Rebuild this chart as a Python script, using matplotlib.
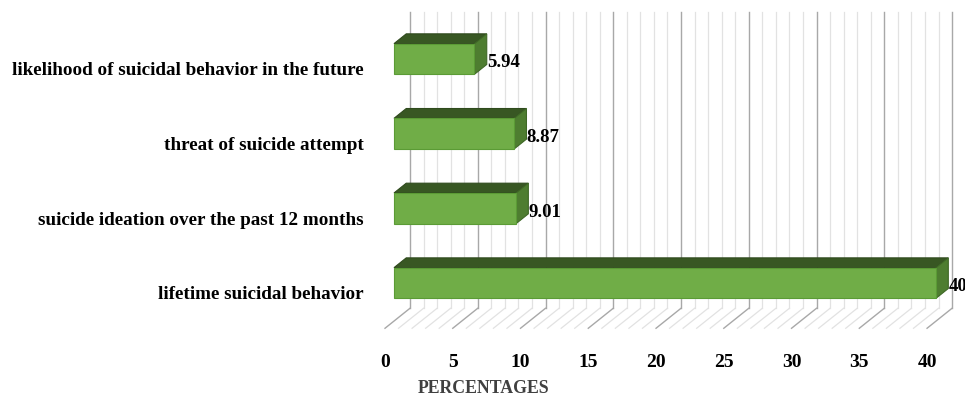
import numpy as np
import matplotlib.pyplot as plt
from matplotlib.patches import Polygon

# data
categories = ['lifetime suicidal behavior',
              'suicide ideation over the past 12 months',
              'threat of suicide attempt',
              'likelihood of suicidal behavior in the future']
values = [40, 9.01, 8.87, 5.94]
value_labels = ['40', '9.01', '8.87', '5.94']
major_ticks = [0, 5, 10, 15, 20, 25, 30, 35, 40]
minor_ticks = list(range(0, 41))

# fake 3d: oblique depth vector (full depth) in data units
DX, DY = 1.845, 0.268
D0, D1 = 0.36, 0.85      # bar front / back depth
HALF = 0.205             # half bar height
FLOOR = -0.51
WALL_TOP = 3.46

FRONT = '#70ad47'
TOP = '#385723'
SIDE = '#4e7d30'
EDGE = '#5b9b35'

plt.rcParams['font.family'] = ['Liberation Serif', 'DejaVu Serif']


def proj(v, y, d):
    return (v + d * DX, y + d * DY)


def face(ax, pts, color, ec, z):
    poly = Polygon([proj(*p) for p in pts], closed=True, facecolor=color,
                   edgecolor=ec, linewidth=0.8, zorder=z)
    ax.add_patch(poly)


fig = plt.figure(figsize=(9.65, 4.01), dpi=100)
ax = fig.add_axes([0, 0, 1, 1])
ax.set_xlim(-28.41, 42.80)
ax.set_ylim(-1.484, 3.886)
ax.axis('off')

# back wall + floor grid
for t in minor_ticks:
    major = t in major_ticks
    c = '#a8a8a8' if major else '#e2e2e2'
    lw = 1.0 if major else 0.9
    z = 1.5 if major else 1
    x0, y0 = proj(t, FLOOR, 0)
    x1, y1 = proj(t, FLOOR, 1)
    ax.plot([x0, x1], [y0, y1], color=c, lw=lw, zorder=z)
    x2, y2 = proj(t, WALL_TOP, 1)
    ax.plot([x1, x2], [y1, y2], color=c, lw=lw, zorder=z)

# bars
for i, v in enumerate(values):
    lo, hi = i - HALF, i + HALF
    face(ax, [(0, hi, D0), (v, hi, D0), (v, hi, D1), (0, hi, D1)], TOP, '#2f4a1d', 3)
    face(ax, [(v, lo, D0), (v, lo, D1), (v, hi, D1), (v, hi, D0)], SIDE, '#3f6826', 3)
    face(ax, [(0, lo, D0), (v, lo, D0), (v, hi, D0), (0, hi, D0)], FRONT, EDGE, 4)
    lx, ly = proj(v, i, D1)
    ax.text(lx, i + D0 * DY - 0.05, value_labels[i], ha='left', va='center',
            fontsize=13.5, fontweight='bold', zorder=5)
    ax.text(-1.55, i - 0.062, categories[i], ha='right', va='center',
            fontsize=13.75, fontweight='bold')

for t in major_ticks:
    ax.text(t, -0.975, str(t), ha='center', va='center', fontsize=14, fontweight='bold')

ax.text(7.3, -1.323, 'PERCENTAGES', ha='center', va='center', fontsize=12.8,
        fontweight='bold', color='#404040')

fig.savefig('out.png', dpi=100)
